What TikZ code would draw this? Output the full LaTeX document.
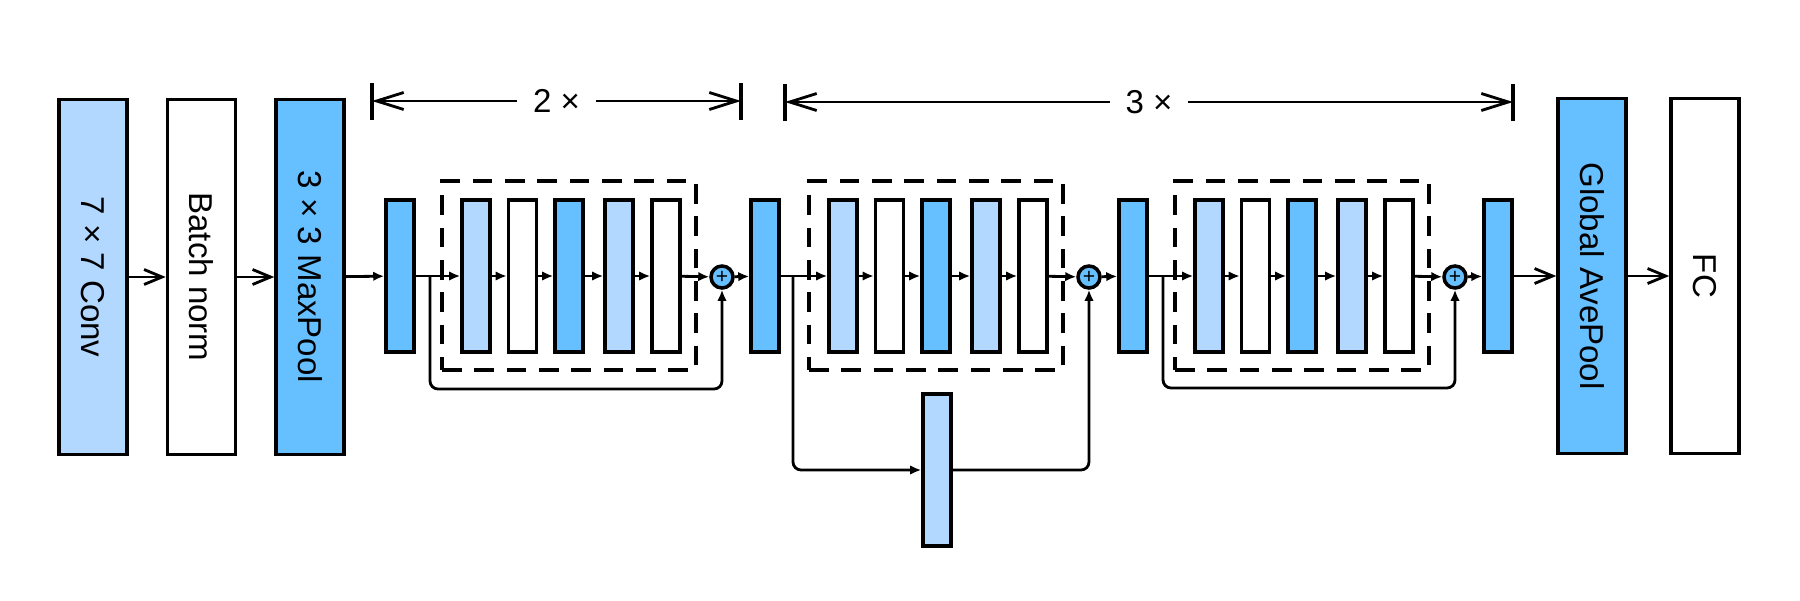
\documentclass[tikz,border=0pt]{standalone}
\usepackage{fontspec}
\setmainfont{Liberation Sans}
\usetikzlibrary{arrows.meta,calc}
\definecolor{lightblue}{RGB}{178,216,255}
\definecolor{midblue}{RGB}{102,191,255}

\begin{document}
\begin{tikzpicture}[x=0.01cm,y=-0.01cm,
  font=\fontsize{9.4}{11}\selectfont,
  bigbox/.style={draw,line width=1pt,minimum width=0.68cm,minimum height=3.55cm,inner sep=0},
  thinbox/.style={draw,line width=1pt,minimum width=0.28cm,minimum height=1.52cm,inner sep=0},
  dashbox/.style={draw,dash pattern=on 5.6pt off 3.6pt,line width=1pt,minimum width=2.54cm,minimum height=1.89cm,inner sep=0},
  addop/.style={circle,draw,fill=midblue,line width=1pt,minimum size=0.22cm,inner sep=0,font=\fontsize{6}{6}\selectfont},
  bigarrow/.style={-{Straight Barb[length=1.8mm,width=1.5mm]},line width=0.8pt},
  smallarrow/.style={-{Latex[length=1.1mm,width=0.95mm]},line width=0.8pt},
  skip/.style={smallarrow,rounded corners=0.08cm},
  span/.style={{Straight Barb[length=2.7mm,width=1.7mm]}-{Straight Barb[length=2.7mm,width=1.7mm]},line width=0.8pt},
  tick/.style={line width=1pt}]
\useasboundingbox (0,0) rectangle (1800,600);

% stem
\node[bigbox,fill=lightblue] (conv) at (93,277) {\rotatebox{-90}{7 × 7 Conv}};
\node[bigbox,fill=white] (bn) at (201.5,277) {\rotatebox{-90}{Batch norm}};
\node[bigbox,fill=midblue] (pool) at (310,277) {\rotatebox{-90}{3 × 3 MaxPool}};
\draw[bigarrow] (conv) -- (bn);
\draw[bigarrow] (bn) -- (pool);

% small blocks between the residual units
\node[thinbox,fill=midblue] (box1) at (400,276) {};
\node[thinbox,fill=midblue] (box2) at (765,276) {};
\node[thinbox,fill=midblue] (box3) at (1133,276) {};
\node[thinbox,fill=midblue] (box4) at (1498,276) {};
\draw[smallarrow] (pool) -- (box1);

% residual units
\foreach \b/\x in {1/476,2/843,3/1209} {
  \node[dashbox] (dash\b) at (\x+93,275.5) {};
  \foreach \i/\dx/\c in {1/0/lightblue,2/46.5/white,3/93/midblue,4/143/lightblue,5/190/white}
    \node[thinbox,fill=\c] (in\b\i) at (\x+\dx,276) {};
  \foreach \i/\j in {1/2,2/3,3/4,4/5}
    \draw[smallarrow] (in\b\i) -- (in\b\j);
  \node[addop] (plus\b) at (\x+246,277) {+};
  \draw[smallarrow] (in\b5) -- (plus\b);
}
\draw[smallarrow] (box1) -- (in11);
\draw[smallarrow] (box2) -- (in21);
\draw[smallarrow] (box3) -- (in31);
\draw[smallarrow] (plus1) -- (box2);
\draw[smallarrow] (plus2) -- (box3);
\draw[smallarrow] (plus3) -- (box4);

% shortcuts
\coordinate (br1) at (430,277);
\coordinate (lo1) at (430,389);
\coordinate (br2) at (793,277);
\coordinate (br3) at (1163,277);
\coordinate (lo3) at (1163,388);
\node[thinbox,fill=lightblue] (ds) at (937,470) {};
\draw[skip] (br1) -- (lo1) -| (plus1);
\draw[skip] (br2) |- (ds);
\draw[skip] (ds) -| (plus2);
\draw[skip] (br3) -- (lo3) -| (plus3);

% head
\node[bigbox,fill=midblue] (gap) at (1592,276) {\rotatebox{-90}{Global AvePool}};
\node[bigbox,fill=white] (fc) at (1705,276) {\rotatebox{-90}{FC}};
\draw[bigarrow] (box4) -- (gap);
\draw[bigarrow] (gap) -- (fc);

% repeat spans
\coordinate (l2) at (372,101);
\coordinate (r2) at (741,101);
\coordinate (l3) at (785,102);
\coordinate (r3) at (1513,102);
\draw[span] (l2) -- node[fill=white,inner xsep=0.16cm] {2 ×} (r2);
\draw[span] (l3) -- node[fill=white,inner xsep=0.16cm] {3 ×} (r3);
\foreach \p in {l2,r2,l3,r3}
  \draw[tick] ($(\p)+(0,-18)$) -- ($(\p)+(0,19)$);
\end{tikzpicture}
\end{document}
